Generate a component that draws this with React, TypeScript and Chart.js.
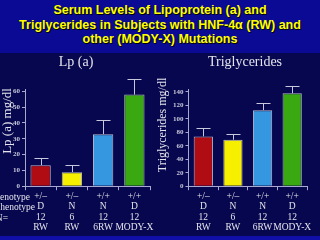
import React, { useEffect, useRef } from "react";
import { Chart, registerables } from "chart.js";
Chart.register(...registerables);

const genotypes = ["+/–", "+/–", "+/+", "+/+"];
const phenotypes = ["D", "N", "N", "D"];
const counts = ["12", "6", "12", "12"];
const groups = ["RW", "RW", "6RW", "MODY-X"];
const rowNames = ["Genotype", "Phenotype", "N="];

const lpValues = [13.3, 8.9, 32.9, 58];
const lpErrorTops = [18.1, 13.1, 42.2, 68];
const tgValues = [74, 69, 113, 138];
const tgErrorTops = [86.5, 77, 124, 148.5];
const barColors = ["#B00C14", "#F6F000", "#3597DF", "#3AA810"];

const SERIF = "'Liberation Serif', 'Times New Roman', serif";
const AXIS = "#A8A8D0";
const TEXT = "#E4E4EC";

const labels = genotypes.map((g, i) => [g, phenotypes[i], counts[i], groups[i]]);

const errorBarPlugin = {
  id: "errorBars",
  afterDatasetsDraw(chart: any, _a: any, opts: any) {
    const { ctx, scales } = chart;
    const y = scales.y;
    const meta = chart.getDatasetMeta(0);
    ctx.save();
    ctx.strokeStyle = opts.color;
    ctx.lineWidth = 1;
    (opts.tops as number[]).forEach((t, i) => {
      const bar = meta.data[i];
      const px = Math.round(bar.x) + 0.5;
      const yt = Math.round(y.getPixelForValue(t)) + 0.5;
      ctx.beginPath();
      ctx.moveTo(px, bar.y);
      ctx.lineTo(px, yt);
      ctx.moveTo(px - 7, yt);
      ctx.lineTo(px + 7, yt);
      ctx.stroke();
    });
    ctx.restore();
  },
};

const textPlugin = {
  id: "extraText",
  afterDraw(chart: any, _a: any, opts: any) {
    const { ctx, scales } = chart;
    const x = scales.x;
    ctx.save();
    ctx.fillStyle = TEXT;
    // panel title
    ctx.font = `14px ${SERIF}`;
    ctx.textAlign = "center";
    ctx.textBaseline = "middle";
    ctx.fillText(opts.title, opts.titleX, opts.titleY);
    // rotated y-axis title
    ctx.save();
    ctx.translate(opts.yTitleX, opts.yTitleY);
    ctx.rotate(-Math.PI / 2);
    ctx.font = `${opts.yTitleSize}px ${SERIF}`;
    ctx.textAlign = "center";
    ctx.textBaseline = "middle";
    ctx.fillText(opts.yTitle, 0, 0);
    ctx.restore();
    if (opts.showRows) {
      ctx.font = `9.5px ${SERIF}`;
      ctx.textBaseline = "middle";
      ctx.textAlign = "right";
      const y0 = x.top + opts.offset;
      rowNames.forEach((n, i) => {
        ctx.fillText(n, opts.xs[i], y0 + i * opts.lineH);
      });
    }
    ctx.restore();
  },
};

function BarPanel(props: {
  title: string;
  titleX: number;
  yTitle: string;
  yTitleSize: number;
  yTitleX: number;
  yTitleY: number;
  values: number[];
  tops: number[];
  max: number;
  step: number;
  padLeft: number;
  padRight: number;
  width: number;
  showRows: boolean;
}) {
  const ref = useRef<HTMLCanvasElement>(null);
  useEffect(() => {
    const chart = new Chart(ref.current!, {
      type: "bar",
      data: {
        labels,
        datasets: [
          {
            data: props.values,
            backgroundColor: barColors,
            borderColor: "#B8B8CC",
            borderWidth: 1,
            barPercentage: 0.65,
            categoryPercentage: 1,
          },
        ],
      },
      plugins: [errorBarPlugin, textPlugin],
      options: {
        animation: false,
        responsive: false,
        maintainAspectRatio: false,
        layout: { padding: { left: props.padLeft, right: props.padRight, top: 36, bottom: 2 } },
        plugins: {
          legend: { display: false },
          tooltip: { enabled: false },
          title: { display: false },
          errorBars: { tops: props.tops, color: "#C8C8DC" },
          extraText: {
            title: props.title,
            titleX: props.titleX,
            titleY: 9,
            showRows: props.showRows,
            offset: 11,
            lineH: 10.5,
            xs: [30, 35, 8],
            yTitle: props.yTitle,
            yTitleSize: props.yTitleSize,
            yTitleX: props.yTitleX,
            yTitleY: props.yTitleY,
          },
        } as any,
        scales: {
          x: {
            grid: { display: true, drawOnChartArea: false, drawTicks: true, tickLength: 4, color: AXIS },
            border: { color: AXIS },
            ticks: {
              color: TEXT,
              font: { family: SERIF, size: 9.5, lineHeight: 1.1 },
              padding: 1,
              maxRotation: 0,
              autoSkip: false,
            },
          },
          y: {
            min: 0,
            max: props.max,
            grid: { drawOnChartArea: false, tickLength: 3, color: AXIS },
            border: { color: AXIS },
            ticks: {
              stepSize: props.step,
              includeBounds: false,
              color: "#C8C8DC",
              font: { family: SERIF, size: 7, weight: "bold" },
              padding: 2,
            },
          },
        },
      } as any,
    });
    return () => chart.destroy();
  }, []);
  return (
    <canvas
      ref={ref}
      width={props.width}
      height={183}
      style={{ display: "block", width: props.width, height: 183 }}
    />
  );
}

export default function App() {
  return (
    <div
      style={{
        position: "fixed",
        left: 0,
        top: 0,
        width: 320,
        height: 240,
        background: "#07074F",
        overflow: "hidden",
      }}
    >
      <div
        style={{
          position: "absolute",
          left: 0,
          top: 0,
          width: 320,
          height: 53,
          background: "#0A0A94",
          color: "#FFFF00",
          fontFamily: "'Liberation Sans', Arial, sans-serif",
          fontWeight: "bold",
          fontSize: 12.5,
          lineHeight: "14.5px",
          textAlign: "center",
          paddingTop: 3,
          boxSizing: "border-box",
          textShadow: "1px 1px 0 #000",
        }}
      >
        Serum Levels of Lipoprotein (a) and
        <br />
        Triglycerides in Subjects with HNF-4α (RW) and
        <br />
        other (MODY-X) Mutations
      </div>
      <div style={{ position: "absolute", left: 0, top: 53 }}>
        <BarPanel
          title="Lp (a)"
          titleX={76}
          yTitle="Lp (a) mg/dl"
          yTitleSize={13}
          yTitleX={8}
          yTitleY={68}
          values={lpValues}
          tops={lpErrorTops}
          max={61.5}
          step={10}
          padLeft={11}
          padRight={10}
          width={160}
          showRows={true}
        />
      </div>
      <div style={{ position: "absolute", left: 152, top: 53 }}>
        <BarPanel
          title="Triglycerides"
          titleX={93}
          yTitle="Triglycerides mg/dl"
          yTitleSize={12}
          yTitleX={11}
          yTitleY={72}
          values={tgValues}
          tops={tgErrorTops}
          max={144.4}
          step={20}
          padLeft={19}
          padRight={13}
          width={168}
          showRows={false}
        />
      </div>
      <div style={{ position: "absolute", left: 0, top: 236, width: 320, height: 4, background: "#1010A8" }} />
    </div>
  );
}
